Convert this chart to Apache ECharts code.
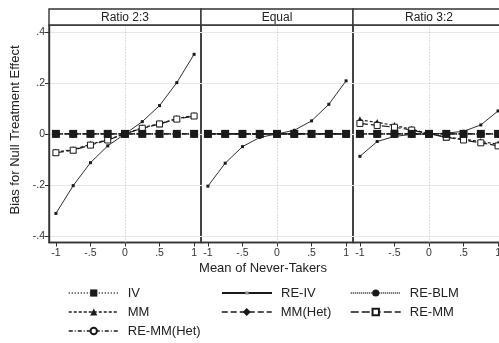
<!DOCTYPE html>
<html>
<head>
<meta charset="utf-8">
<script src="https://cdn.jsdelivr.net/npm/echarts@6/dist/echarts.min.js"></script>
<style>
html,body{margin:0;padding:0;background:#fff;overflow:hidden;width:499px;height:343px;}
#chart{width:506px;height:343px;}
</style>
</head>
<body>
<div id="chart"></div>
<script>
// ---- data ----
const xs = [-1, -0.75, -0.5, -0.25, 0, 0.25, 0.5, 0.75, 1];
const panelTitles = ['Ratio 2:3', 'Equal', 'Ratio 3:2'];
const yTicks = [-0.4, -0.2, 0, 0.2, 0.4];
const xTicks = [-1, -0.5, 0, 0.5, 1];

// values per panel: [Ratio 2:3, Equal, Ratio 3:2]
const IV = [
  [0, 0, 0, 0, 0, 0, 0, 0, 0],
  [0, 0, 0, 0, 0, 0, 0, 0, 0],
  [0, 0, 0, 0, 0, 0, 0, 0, 0]
];
const RE_IV = [
  [-0.312, -0.203, -0.113, -0.047, 0, 0.048, 0.111, 0.201, 0.312],
  [-0.205, -0.115, -0.050, -0.014, 0, 0.014, 0.051, 0.116, 0.208],
  [-0.088, -0.030, -0.010, -0.002, 0, 0.003, 0.010, 0.035, 0.090]
];
const RE_BLM = [
  [0, 0, 0, 0, 0, 0, 0, 0, 0],
  [0, 0, 0, 0, 0, 0, 0, 0, 0],
  [0, 0, 0, 0, 0, 0, 0, 0, 0]
];
const MM = [
  [-0.071, -0.062, -0.041, -0.022, 0, 0.024, 0.040, 0.060, 0.072],
  [0, 0, 0, 0, 0, 0, 0, 0, 0],
  [0.055, 0.045, 0.033, 0.018, 0, -0.012, -0.021, -0.030, -0.040]
];
const MM_HET = [
  [0, 0, 0, 0, 0, 0, 0, 0, 0],
  [0, 0, 0, 0, 0, 0, 0, 0, 0],
  [0, 0, 0, 0, 0, 0, 0, 0, 0]
];
const RE_MM = [
  [-0.074, -0.064, -0.044, -0.024, 0, 0.022, 0.039, 0.058, 0.070],
  [0, 0, 0, 0, 0, 0, 0, 0, 0],
  [0.041, 0.033, 0.026, 0.015, 0, -0.013, -0.024, -0.035, -0.047]
];
const RE_MM_HET = [
  [0, 0, 0, 0, 0, 0, 0, 0, 0],
  [0, 0, 0, 0, 0, 0, 0, 0, 0],
  [0, 0, 0, 0, 0, 0, 0, 0, 0]
];

// ---- styles ----
const INK = '#1a1a1a';
const FONT = '"Liberation Sans", Arial, sans-serif';
const styles = {
  'RE-IV':      {vals: RE_IV,     symbol: 'rect',     size: 3, dash: 'solid',      width: 0.9, fill: INK},
  'MM':         {vals: MM,        symbol: 'triangle', size: 7, dash: [3, 2],       width: 1.2, fill: INK},
  'RE-MM':      {vals: RE_MM,     symbol: 'rect',     size: 6, dash: [8, 3],       width: 1.2, fill: '#fff'},
  'MM(Het)':    {vals: MM_HET,    symbol: 'diamond',  size: 8, dash: [6, 3],       width: 1.2, fill: INK},
  'RE-MM(Het)': {vals: RE_MM_HET, symbol: 'circle',   size: 5, dash: [4, 2, 1, 2], width: 1.0, fill: '#fff'},
  'RE-BLM':     {vals: RE_BLM,    symbol: 'circle',   size: 7, dash: [1, 1],       width: 1.0, fill: INK},
  'IV':         {vals: IV,        symbol: 'rect',     size: 8, dash: [1, 2],       width: 1.0, fill: INK}
};
const drawOrder = ['RE-IV', 'MM', 'RE-MM', 'MM(Het)', 'RE-MM(Het)', 'RE-BLM', 'IV'];

function fmt(v) {
  if (Math.abs(v) < 1e-9) return '0';
  let s = (Math.round(Math.abs(v) * 10) / 10).toString().replace(/^0\./, '.');
  return (v < 0 ? '-' : '') + s;
}

const gridLeft = 49, gridW = 152, gridTop = 25, gridH = 217.5;
const grids = [], xAxes = [], yAxes = [], series = [], graphics = [];

for (let p = 0; p < 3; p++) {
  const left = gridLeft + p * gridW;
  grids.push({left: left, top: gridTop, width: gridW, height: gridH, show: true,
    borderColor: '#333', borderWidth: 1.4, backgroundColor: 'transparent', containLabel: false});
  xAxes.push({type: 'value', gridIndex: p, min: -1.1, max: 1.1,
    axisLine: {show: true, onZero: false, lineStyle: {color: '#333', width: 1.4}},
    axisTick: {show: true, length: 4, customValues: xTicks, lineStyle: {color: '#333'}},
    axisLabel: {show: true, customValues: xTicks, formatter: fmt, margin: 5,
      color: '#333', fontSize: 10.5, fontFamily: FONT},
    splitLine: {show: false}});
  yAxes.push({type: 'value', gridIndex: p, min: -0.426, max: 0.427,
    axisLine: {show: p === 0, onZero: false, lineStyle: {color: '#333', width: 1.4}},
    axisTick: {show: p === 0, length: 4, customValues: yTicks, lineStyle: {color: '#333'}},
    axisLabel: {show: p === 0, customValues: yTicks, formatter: fmt, margin: 4,
      color: '#333', fontSize: 10.5, fontFamily: FONT},
    splitLine: {show: true, lineStyle: {color: '#e8e8e8', width: 1}}});
  graphics.push({type: 'rect', shape: {x: left, y: 9, width: gridW, height: 16},
    style: {fill: '#fff', stroke: '#333', lineWidth: 1.4}, silent: true, z: 10});
  graphics.push({type: 'text', x: left + gridW / 2, y: 17.5, z: 11, silent: true,
    style: {text: panelTitles[p], fontSize: 12, fontFamily: FONT, fill: '#222',
      textAlign: 'center', textVerticalAlign: 'middle'}});

  drawOrder.forEach((name, k) => {
    const st = styles[name];
    const s = {
      name: name, type: 'line', xAxisIndex: p, yAxisIndex: p,
      data: xs.map((x, i) => [x, st.vals[p][i]]),
      symbol: st.symbol, symbolSize: st.size, showSymbol: true,
      lineStyle: {color: INK, width: st.width, type: st.dash},
      itemStyle: {color: st.fill, borderColor: INK, borderWidth: st.fill === '#fff' ? 1 : 0},
      emphasis: {disabled: true}, animation: false, z: 3 + k
    };
    if (k === 0) {
      s.markLine = {silent: true, symbol: 'none', label: {show: false},
        lineStyle: {color: '#bbb', type: [1, 2], width: 1}, animation: false,
        data: [{xAxis: 0}]};
    }
    series.push(s);
  });
}

graphics.push({type: 'text', x: 263, y: 268, silent: true,
  style: {text: 'Mean of Never-Takers', fontSize: 13, fontFamily: FONT, fill: '#222',
    textAlign: 'center', textVerticalAlign: 'middle'}});
graphics.push({type: 'text', x: 15, y: 130, rotation: Math.PI / 2, silent: true,
  style: {text: 'Bias for Null Treatment Effect', fontSize: 13, fontFamily: FONT, fill: '#222',
    textAlign: 'center', textVerticalAlign: 'middle'}});

// one legend component per entry: [left, row centre, name, icon height]
const LEG_LH = 13;
function mkLegend(left, cy, name, ih) {
  return {orient: 'vertical', left: left, top: cy - LEG_LH / 2, itemWidth: 50, itemHeight: ih, itemGap: 0,
    data: [name], selectedMode: false, padding: 0,
    lineStyle: {width: name === 'RE-IV' ? 2 : 1.5},
    itemStyle: name === 'RE-IV' ? {color: '#999'} : {},
    textStyle: {fontSize: 13, lineHeight: LEG_LH, color: '#222', fontFamily: FONT, padding: [0, 0, 0, 4]}};
}
const rowY = [293, 312, 331];

const chart = echarts.init(document.getElementById('chart'), null, {renderer: 'canvas'});
chart.setOption({
  backgroundColor: '#fff',
  animation: false,
  grid: grids,
  xAxis: xAxes,
  yAxis: yAxes,
  legend: [
    mkLegend(68, rowY[0], 'IV', 9),
    mkLegend(68, rowY[1], 'MM', 9),
    mkLegend(68, rowY[2], 'RE-MM(Het)', 8),
    mkLegend(221, rowY[0], 'RE-IV', 4),
    mkLegend(221, rowY[1], 'MM(Het)', 10),
    mkLegend(350, rowY[0], 'RE-BLM', 9),
    mkLegend(350, rowY[1], 'RE-MM', 8)
  ],
  graphic: graphics,
  series: series
});
</script>
</body>
</html>
